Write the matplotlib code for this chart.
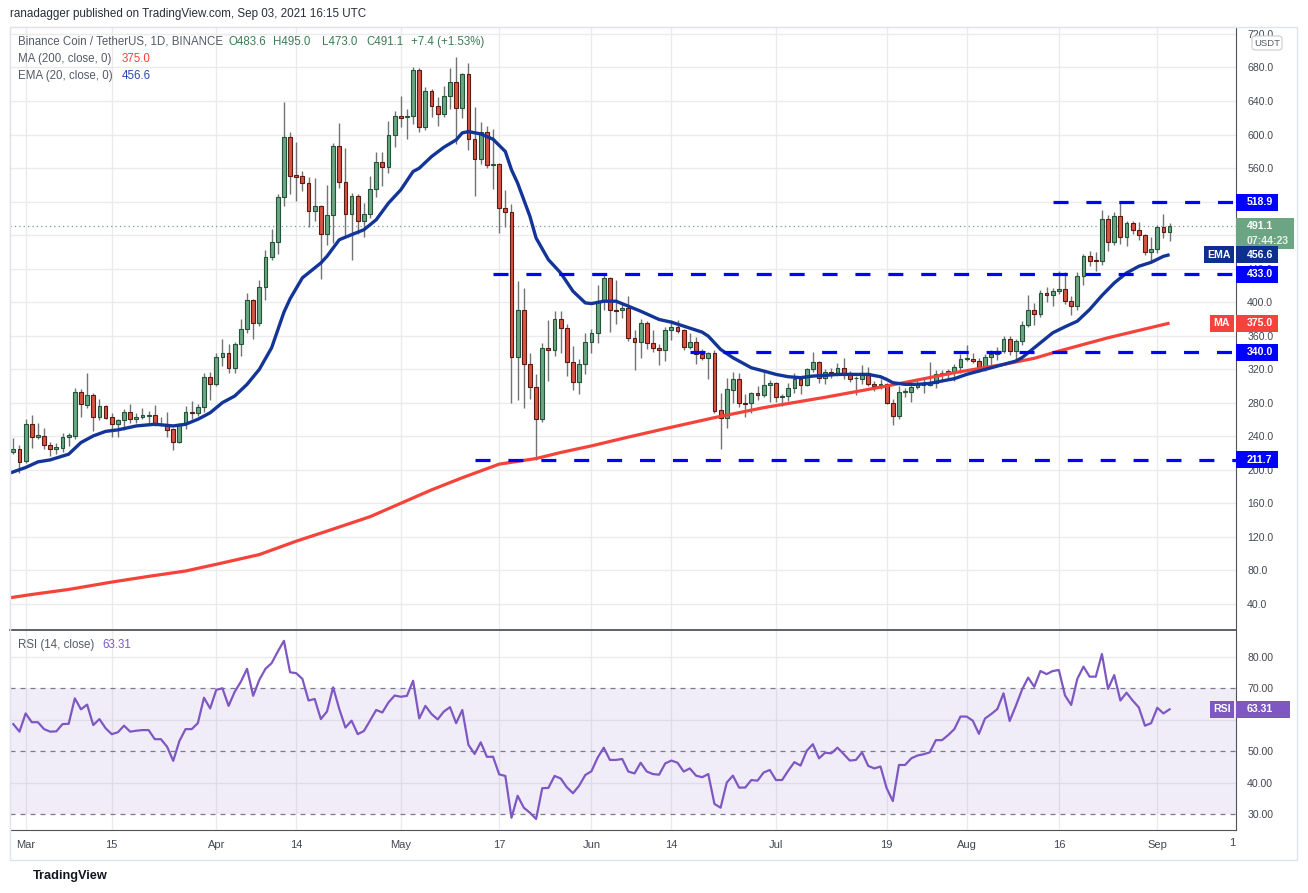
import numpy as np
import matplotlib
matplotlib.use("Agg")
import matplotlib.pyplot as plt
import matplotlib.transforms as mtransforms
from matplotlib.patches import Rectangle, FancyBboxPatch

plt.rcParams['font.family'] = ['Liberation Sans', 'DejaVu Sans']

W, H = 1308, 893

# daily candles, BNB/USDT, Feb 27 2021 (index 0) .. Sep 03 2021 (index 188)
opens = [
    221.4, 225.3, 210.6, 255.1, 239.6, 240.4, 229.3, 225.3, 226.5, 239.6,
    240.4, 293.2, 277.3, 289.2, 263.4, 276.1, 263.0, 254.3, 259.5, 269.4,
    261.0, 263.0, 264.2, 265.0, 255.1, 255.1, 248.4, 233.7, 255.1, 269.4,
    267.4, 275.3, 311.0, 302.7, 334.8, 338.8, 321.7, 349.5, 368.2, 403.1,
    375.3, 418.2, 453.9, 471.7, 525.3, 596.7, 551.9, 550.7, 542.0, 508.2,
    515.0, 481.3, 504.3, 586.4, 543.2, 505.1, 526.9, 496.3, 505.1, 534.8,
    567.8, 561.8, 599.1, 622.5, 620.5, 621.7, 676.9, 609.4, 651.9, 634.0,
    624.1, 645.9, 662.2, 631.3, 672.1, 594.7, 570.9, 602.7, 563.8, 564.6,
    512.2, 507.0, 334.8, 391.2, 326.5, 299.1, 261.0, 345.6, 342.8, 379.3,
    369.4, 328.5, 304.7, 325.7, 352.3, 362.6, 401.1, 428.9, 391.2, 390.4,
    393.2, 357.5, 352.7, 375.3, 351.5, 345.6, 342.8, 366.2, 370.6, 366.2,
    346.8, 352.7, 337.6, 333.7, 338.8, 271.0, 262.2, 295.2, 308.7, 280.1,
    279.3, 291.2, 289.6, 300.7, 303.9, 287.2, 287.6, 298.0, 307.8, 301.1,
    319.8, 328.5, 309.9, 317.0, 315.4, 321.7, 315.8, 309.1, 308.7, 315.8,
    302.7, 300.7, 301.9, 280.1, 264.2, 293.2, 293.2, 299.1, 301.5, 301.5,
    303.9, 313.8, 313.8, 316.6, 322.9, 332.5, 332.5, 329.7, 322.9, 334.8,
    337.6, 341.6, 356.3, 341.6, 353.5, 372.2, 391.2, 386.4, 411.0, 408.7,
    413.8, 416.2, 401.1, 395.2, 431.7, 455.5, 449.5, 448.7, 499.1, 471.3,
    503.1, 477.7, 494.4, 485.6, 479.7, 459.8, 463.8, 489.6, 483.6,
]
highs = [
    238.4, 229.3, 261.0, 265.0, 255.5, 249.5, 233.3, 232.5, 243.6, 243.6,
    297.1, 295.9, 315.0, 291.2, 284.0, 277.3, 268.2, 261.0, 272.2, 278.1,
    268.2, 274.1, 270.2, 276.9, 263.0, 269.0, 250.3, 256.3, 276.1, 282.1,
    278.1, 315.8, 317.0, 339.6, 356.3, 349.5, 352.3, 380.1, 411.0, 404.0,
    426.1, 461.8, 487.6, 529.3, 638.8, 603.1, 591.6, 556.7, 549.1, 548.7,
    516.0, 540.0, 590.4, 614.2, 583.6, 530.1, 529.3, 518.2, 550.7, 579.3,
    579.3, 616.2, 628.1, 645.9, 630.1, 680.9, 678.9, 657.0, 653.9, 644.4,
    657.8, 679.7, 692.8, 673.7, 685.6, 633.2, 615.4, 610.2, 606.2, 565.5,
    534.0, 517.4, 424.9, 417.0, 339.6, 313.8, 350.7, 378.1, 389.2, 389.2,
    373.4, 347.5, 331.7, 363.4, 367.4, 420.9, 432.8, 430.0, 426.1, 399.1,
    407.9, 366.6, 379.3, 377.3, 366.2, 349.5, 370.6, 378.5, 378.5, 368.2,
    362.6, 358.3, 344.4, 340.4, 342.4, 291.2, 309.9, 316.6, 315.8, 290.0,
    292.8, 299.9, 317.8, 307.0, 304.5, 290.0, 303.1, 315.0, 311.0, 321.7,
    340.4, 329.7, 319.8, 321.7, 326.9, 333.7, 317.8, 311.8, 324.5, 323.0,
    305.9, 307.8, 303.9, 284.0, 299.9, 298.0, 304.7, 307.0, 307.8, 328.5,
    318.6, 318.9, 320.6, 325.7, 337.6, 348.3, 338.8, 333.7, 337.6, 342.8,
    346.8, 360.2, 360.2, 356.3, 377.3, 409.1, 399.1, 414.2, 418.2, 417.0,
    437.6, 436.0, 407.1, 435.6, 457.9, 460.6, 459.4, 510.2, 504.3, 507.8,
    519.8, 496.3, 496.3, 496.0, 481.7, 477.7, 492.0, 505.5, 495.0,
]
lows = [
    218.6, 196.7, 208.6, 226.5, 236.4, 225.3, 216.6, 219.4, 221.4, 228.5,
    236.4, 263.0, 273.4, 246.4, 259.5, 260.2, 239.6, 239.6, 247.6, 256.3,
    256.3, 260.2, 256.3, 252.3, 252.3, 239.6, 223.3, 232.5, 248.4, 260.2,
    264.2, 269.0, 283.2, 299.9, 323.7, 315.8, 315.8, 335.6, 363.4, 356.3,
    371.4, 402.3, 449.9, 457.9, 514.2, 529.3, 520.2, 533.2, 489.6, 496.3,
    427.7, 468.6, 470.5, 536.0, 479.3, 449.9, 481.7, 477.3, 500.3, 524.9,
    538.0, 553.9, 585.6, 608.6, 595.1, 612.0, 603.5, 605.5, 620.5, 610.2,
    620.5, 630.1, 588.8, 619.3, 581.6, 526.1, 565.0, 559.8, 534.8, 482.5,
    489.6, 280.1, 283.2, 274.1, 284.0, 211.8, 257.1, 305.9, 335.6, 338.8,
    311.8, 295.2, 290.0, 313.8, 338.8, 350.7, 391.2, 364.2, 374.5, 381.3,
    353.5, 318.9, 333.7, 344.4, 340.4, 324.9, 329.7, 354.7, 362.6, 342.8,
    344.4, 325.7, 330.5, 308.7, 268.2, 224.5, 250.3, 280.1, 275.3, 263.4,
    268.2, 283.2, 287.2, 280.9, 280.9, 276.1, 282.1, 291.2, 290.0, 299.9,
    316.6, 303.9, 301.9, 309.9, 311.8, 308.7, 304.7, 288.8, 301.9, 299.9,
    294.0, 296.7, 278.1, 253.1, 261.0, 287.2, 280.9, 296.0, 292.0, 299.9,
    297.9, 305.9, 307.8, 305.9, 315.8, 329.7, 326.9, 316.6, 317.8, 322.9,
    330.9, 338.8, 336.4, 332.5, 348.3, 370.6, 372.2, 382.5, 399.9, 395.2,
    410.2, 398.3, 384.1, 391.2, 420.9, 442.8, 436.8, 444.7, 460.6, 468.6,
    469.8, 466.6, 481.7, 474.5, 456.7, 448.7, 458.6, 476.5, 473.0,
]
closes = [
    225.3, 209.5, 255.1, 239.6, 241.2, 229.3, 225.3, 226.9, 239.6, 241.2,
    293.2, 278.1, 289.2, 263.4, 276.1, 262.2, 254.3, 259.5, 269.4, 261.0,
    263.0, 265.0, 265.4, 255.1, 254.3, 247.6, 233.7, 255.1, 269.4, 267.4,
    275.3, 311.0, 301.9, 334.8, 338.8, 321.7, 349.5, 368.2, 403.1, 375.3,
    418.2, 453.9, 471.7, 525.3, 596.7, 551.1, 549.9, 542.0, 508.2, 515.0,
    481.3, 504.3, 586.4, 543.2, 505.1, 526.9, 496.3, 505.1, 534.8, 567.8,
    561.8, 599.1, 622.5, 620.1, 621.7, 676.9, 609.4, 651.9, 634.0, 624.1,
    645.9, 662.2, 631.3, 672.1, 594.7, 570.9, 602.7, 563.8, 564.6, 512.2,
    507.0, 334.8, 391.2, 325.7, 299.1, 261.0, 345.6, 342.8, 379.3, 369.4,
    328.5, 304.7, 325.7, 352.3, 362.6, 401.1, 428.9, 391.2, 389.2, 393.2,
    357.5, 352.7, 375.3, 351.5, 345.6, 342.8, 366.2, 370.6, 365.4, 346.8,
    352.7, 337.6, 333.7, 338.8, 270.2, 262.2, 296.0, 308.7, 280.1, 278.5,
    291.2, 289.6, 300.7, 303.9, 287.2, 287.6, 298.0, 307.8, 301.1, 319.8,
    328.5, 309.9, 317.0, 315.4, 321.7, 315.0, 308.7, 309.5, 315.8, 301.9,
    299.9, 301.9, 280.1, 264.2, 293.2, 293.6, 299.1, 301.1, 301.9, 303.1,
    313.8, 315.0, 317.8, 322.9, 332.5, 332.9, 329.7, 322.9, 334.8, 337.6,
    341.6, 356.3, 341.6, 353.5, 372.2, 391.2, 386.4, 411.0, 408.7, 413.8,
    416.2, 401.1, 395.2, 431.7, 455.5, 448.7, 449.1, 499.1, 471.3, 503.1,
    477.7, 494.4, 485.6, 479.7, 459.8, 463.8, 489.6, 483.2, 491.1,
]
rsi_vals = [
    58.6, 56.2, 62.0, 59.2, 59.2, 57.0, 56.2, 56.3, 58.6, 58.7,
    66.8, 63.3, 64.8, 58.3, 60.2, 57.3, 55.4, 56.0, 58.1, 56.2,
    56.5, 56.7, 56.7, 53.8, 53.8, 51.4, 46.9, 53.2, 57.0, 57.0,
    58.9, 67.0, 63.6, 69.5, 70.0, 64.4, 68.9, 72.1, 76.2, 67.6,
    72.7, 76.2, 78.0, 81.7, 85.1, 75.1, 74.8, 73.0, 66.1, 66.6,
    60.2, 62.6, 70.3, 63.4, 57.5, 59.7, 55.4, 56.4, 59.7, 63.1,
    62.3, 65.5, 67.7, 67.3, 67.6, 72.4, 60.4, 64.4, 61.8, 60.1,
    62.6, 64.0, 58.9, 63.1, 52.0, 49.1, 52.8, 48.2, 48.2, 42.6,
    42.1, 28.8, 35.8, 32.0, 30.4, 28.4, 38.2, 38.3, 42.1, 41.3,
    38.5, 36.6, 39.0, 42.4, 43.6, 47.9, 51.1, 47.2, 47.2, 47.5,
    43.5, 42.9, 46.3, 43.5, 42.7, 42.5, 46.1, 47.0, 46.3, 43.5,
    44.5, 42.2, 41.7, 42.7, 33.2, 32.0, 40.0, 42.2, 38.4, 38.4,
    40.8, 40.6, 43.2, 44.0, 40.8, 40.8, 43.8, 46.5, 45.4, 50.1,
    52.2, 47.7, 49.5, 49.3, 51.1, 49.1, 47.0, 47.2, 49.6, 45.3,
    44.5, 45.1, 38.2, 34.1, 45.6, 45.6, 47.7, 48.6, 49.0, 49.6,
    53.5, 53.5, 55.1, 57.0, 61.0, 61.0, 59.7, 55.5, 60.4, 61.8,
    63.4, 68.4, 59.6, 64.4, 69.5, 73.4, 70.5, 75.5, 74.5, 75.5,
    75.8, 67.7, 64.7, 73.0, 76.9, 73.7, 73.7, 80.9, 69.8, 74.2,
    66.1, 68.6, 66.1, 63.9, 58.1, 58.9, 63.8, 62.0, 63.31,
]

# EMA(20) and MA(200) at these candle indices
ema_idx = [-1, 0, 2, 4, 6, 9, 11, 13, 15, 17, 20, 23, 26, 28, 30, 32, 34, 36, 38, 40,
           42, 44, 45, 47, 50, 51, 53, 55, 57, 59, 61, 63, 65, 66, 68, 70, 72, 73, 74, 76,
           78, 80, 81, 82, 84, 85, 87, 89, 91, 93, 94, 96, 98, 100, 102, 105, 107, 109, 112, 113,
           115, 117, 120, 122, 124, 126, 128, 130, 132, 134, 137, 139, 141, 142, 143, 145, 147, 149, 151, 153,
           155, 157, 159, 161, 163, 164, 165, 167, 169, 171, 173, 175, 177, 179, 181, 183, 185, 187, 188]
ema_vals = [195.0, 197.5, 202.7, 209.4, 211.8, 218.6, 232.5, 240.4, 245.8, 247.6,
            252.3, 254.3, 252.3, 254.3, 260.2, 268.0, 280.1, 288.0, 301.9, 319.8,
            345.6, 388.0, 404.0, 429.0, 446.7, 454.7, 474.5, 480.5, 486.4, 498.3,
            518.2, 534.0, 555.9, 559.8, 573.7, 584.8, 593.6, 602.0, 603.5, 600.7,
            594.4, 579.7, 557.9, 542.0, 502.3, 476.5, 450.7, 434.8, 413.0, 399.1,
            398.3, 401.1, 401.1, 395.2, 389.2, 379.3, 376.1, 371.4, 364.2, 359.4,
            343.6, 333.7, 321.7, 317.8, 313.8, 311.0, 309.9, 311.8, 312.6, 313.8,
            313.8, 313.8, 311.0, 307.8, 303.9, 301.9, 301.9, 303.1, 305.9, 308.7,
            313.8, 317.8, 321.7, 325.7, 329.7, 333.7, 339.6, 351.5, 363.4, 370.6,
            377.3, 391.2, 407.9, 422.9, 434.8, 442.8, 447.5, 454.7, 456.6]
ma_idx = [-1, 3, 9, 16, 22, 28, 33, 40, 46, 51, 58, 63, 68, 73, 79, 85, 89, 94, 100, 106,
          114, 122, 132, 142, 153, 161, 166, 170, 178, 188]
ma_vals = [46.8, 51.2, 57.2, 66.0, 72.8, 79.2, 87.2, 98.8, 114.8, 126.8,
           144.0, 160.0, 176.0, 190.5, 206.7, 213.4, 220.6, 228.5, 239.0, 249.1,
           262.2, 274.1, 286.5, 299.9, 315.8, 325.7, 333.0, 341.6, 357.5, 375.0]

# horizontal levels drawn by the author and the candle where each begins
level_vals = [518.9, 433.0, 340.0, 211.7]
level_start = [169, 78, 110, 75]

tick_pos = [2, 16, 33, 46, 63, 79, 94, 107, 124, 142, 155, 170, 186]
tick_labels = ["Mar", "15", "Apr", "14", "May", "17", "Jun", "14", "Jul", "19", "Aug", "16", "Sep"]
price_ticks = list(range(40, 721, 40))
hidden_price = [480, 520]          # covered by the price tags
rsi_ticks = [30, 40, 50, 60, 70, 80]
hidden_rsi = [60]

UP, DOWN = "#6ba583", "#d75442"
UP_EDGE, DOWN_EDGE = "#225437", "#5b1a13"
WICK = "#737375"
EMA_C, MA_C = "#123597", "#f4433a"
LEVEL_C = "#0000ff"
RSI_C = "#7e57c2"
GRID = "#ebebee"
FRAME = "#e0e3eb"
AXIS_C = "#50535e"
TXT = "#434651"

AXW = 1226.0  # plot width in pixels


def fx(px):
    return px / W


def fy(py):
    return 1 - py / H


def draw_candles(ax):
    x = np.arange(len(closes))
    o = np.array(opens)
    hi = np.array(highs)
    lo = np.array(lows)
    c = np.array(closes)
    up = c >= o
    ax.vlines(x, lo, hi, color=WICK, lw=1.0, zorder=3)
    bottom = np.minimum(o, c)
    height = np.maximum(np.abs(c - o), 0.9)
    ax.bar(x[up], height[up], bottom=bottom[up], width=0.62, color=UP,
           edgecolor=UP_EDGE, linewidth=0.8, zorder=4)
    ax.bar(x[~up], height[~up], bottom=bottom[~up], width=0.62, color=DOWN,
           edgecolor=DOWN_EDGE, linewidth=0.8, zorder=4)


def tag(ax, ax_h, y, text, fc, x0_px, w_px, text_px, h_px=17, color="white",
        ha="left", below_px=0.0, fs=7.6):
    trans = mtransforms.blended_transform_factory(ax.transAxes, ax.transData)
    y0, y1 = ax.get_ylim()
    dpp = (y1 - y0) / ax_h
    top = y + h_px / 2 * dpp
    bot = y - (h_px / 2 + below_px) * dpp
    ax.add_patch(Rectangle((1 + x0_px / AXW, bot), w_px / AXW, top - bot, transform=trans,
                           facecolor=fc, edgecolor="none", clip_on=False, zorder=30))
    ax.text(1 + text_px / AXW, y, text, transform=trans, ha=ha, va="center", color=color,
            fontsize=fs, fontweight="bold", clip_on=False, zorder=31)
    return trans, dpp


fig = plt.figure(figsize=(W / 100, H / 100), dpi=100)
fig.patch.set_facecolor("white")

ax = fig.add_axes([fx(10), fy(629), AXW / W, 602 / H])
ax2 = fig.add_axes([fx(10), fy(830), AXW / W, 200 / H], sharex=ax)

# ---- main pane ----
ax.set_xlim(-0.54, 198.8)
ax.set_ylim(10.0, 728.3)
ax.set_xticks(tick_pos)
ax.set_yticks(price_ticks)
ax.set_yticklabels(["" if v in hidden_price else f"{v:.1f}" for v in price_ticks])
ax.yaxis.tick_right()
ax.tick_params(axis="y", length=0, pad=8, labelsize=7.6, colors=TXT)
ax.tick_params(axis="x", length=0, labelbottom=False)
ax.grid(True, color=GRID, lw=1)
ax.set_axisbelow(True)
for side in ["top", "left"]:
    ax.spines[side].set_color(FRAME)
ax.spines["bottom"].set_visible(False)
ax.spines["right"].set_color(AXIS_C)

ax.plot(ma_idx, ma_vals, color=MA_C, lw=2.3, zorder=5, solid_capstyle="butt")
ax.plot(ema_idx, ema_vals, color=EMA_C, lw=2.4, zorder=5, solid_capstyle="butt")
for val, start in zip(level_vals, level_start):
    ax.hlines(val, start, 198.8, colors=LEVEL_C, lw=2.3, linestyles=(0, (4.7, 5.6)), zorder=6)
ax.axhline(closes[-1], color=UP, lw=0.9, ls=(0, (1, 2.5)), zorder=2)
draw_candles(ax)

# price tags on the right scale
tag(ax, 602, 518.9, "518.9", LEVEL_C, 0, 42, 10.5)
trans, dpp = tag(ax, 602, closes[-1], "491.1", "#6ba583", 0, 58, 10.5, h_px=16, below_px=15)
ax.text(1 + 10.5 / AXW, closes[-1] - 15 * dpp, "07:44:23", transform=trans, ha="left",
        va="center", color="#e8f3ec", fontsize=7.6, fontweight="bold", clip_on=False, zorder=31)
tag(ax, 602, ema_vals[-1], "456.6", "#0d2f8f", 0, 42, 10.5)
tag(ax, 602, ema_vals[-1], "EMA", "#0d2f8f", -32, 30, -17, ha="center")
tag(ax, 602, 433.0, "433.0", LEVEL_C, 0, 42, 10.5)
tag(ax, 602, ma_vals[-1], "375.0", MA_C, 0, 42, 10.5)
tag(ax, 602, ma_vals[-1], "MA", MA_C, -26, 24, -14, ha="center")
tag(ax, 602, 340.0, "340.0", LEVEL_C, 0, 42, 10.5)
tag(ax, 602, 211.7, "211.7", LEVEL_C, 0, 42, 10.5)

# ---- RSI pane ----
ax2.set_ylim(24.9, 88.55)
ax2.set_xticks(tick_pos)
ax2.set_xticklabels(tick_labels)
ax2.set_yticks(rsi_ticks)
ax2.set_yticklabels(["" if v in hidden_rsi else f"{v:.2f}" for v in rsi_ticks])
ax2.yaxis.tick_right()
ax2.tick_params(axis="y", length=0, pad=8, labelsize=7.6, colors=TXT)
ax2.tick_params(axis="x", length=0, pad=7, labelsize=8, colors=TXT)
ax2.grid(True, axis="x", color=GRID, lw=1)
ax2.set_axisbelow(True)
for g in [40, 60, 80]:
    ax2.axhline(g, color=GRID, lw=1, zorder=0.5)
ax2.axhspan(30, 70, color=RSI_C, alpha=0.1, lw=0, zorder=1)
for g in [30, 50, 70]:
    ax2.axhline(g, color="#787b86", lw=0.9, ls=(0, (4, 4)), zorder=2)
ax2.plot(np.arange(len(rsi_vals)), rsi_vals, color=RSI_C, lw=1.6, zorder=5)
ax2.spines["left"].set_color(FRAME)
for side in ["top", "bottom", "right"]:
    ax2.spines[side].set_color(AXIS_C)
ax2.spines["top"].set_linewidth(1.3)

tag(ax2, 200, rsi_vals[-1], "63.31", RSI_C, 0, 54, 10.5)
tag(ax2, 200, rsi_vals[-1], "RSI", RSI_C, -26, 24, -14, ha="center")

# ---- texts ----
fig.add_artist(Rectangle((fx(10), fy(860)), fx(1297) - fx(10), fy(27) - fy(860),
                         transform=fig.transFigure, fill=False, edgecolor=FRAME, lw=1))
fig.text(fx(10), fy(14), "ranadagger published on TradingView.com, Sep 03, 2021 16:15 UTC",
         fontsize=8.4, color="#2a2e39", va="center", ha="left")
fig.text(fx(18), fy(42), "Binance Coin / TetherUS, 1D, BINANCE", fontsize=8.3, color="#555a66",
         va="center")
ohlc_parts = [(228.7, "O483.6"), (272.7, "H495.0"), (322, "L473.0"), (366.7, "C491.1"),
              (410.7, "+7.4 (+1.53%)")]
for px, s in ohlc_parts:
    fig.text(fx(px), fy(42), s, fontsize=8.3, color="#3b7d56", va="center")
fig.text(fx(18), fy(59), "MA (200, close, 0)", fontsize=8.3, color="#555a66", va="center")
fig.text(fx(122), fy(59), "375.0", fontsize=8.3, color=MA_C, va="center")
fig.text(fx(18), fy(76), "EMA (20, close, 0)", fontsize=8.3, color="#555a66", va="center")
fig.text(fx(122), fy(76), "456.6", fontsize=8.3, color="#2a48b0", va="center")
fig.text(fx(18), fy(645), "RSI (14, close)", fontsize=8.3, color="#555a66", va="center")
fig.text(fx(102), fy(645), "63.31", fontsize=8.3, color=RSI_C, va="center")
fig.text(fx(1235), fy(843), "1", fontsize=8, color=TXT, va="center", ha="right")

fig.add_artist(FancyBboxPatch((fx(1252), fy(50)), fx(30), fy(36) - fy(50),
                              boxstyle="round,pad=0,rounding_size=0.003",
                              transform=fig.transFigure, facecolor="white",
                              edgecolor="#c9cbd1", lw=0.8))
fig.text(fx(1267), fy(43), "USDT", fontsize=6.8, color="#555a66", va="center", ha="center")
fig.text(fx(33), fy(876), "TradingView", fontsize=9.2, color="#131722", va="center",
         fontweight="bold")

fig.savefig("out.png", dpi=100)
